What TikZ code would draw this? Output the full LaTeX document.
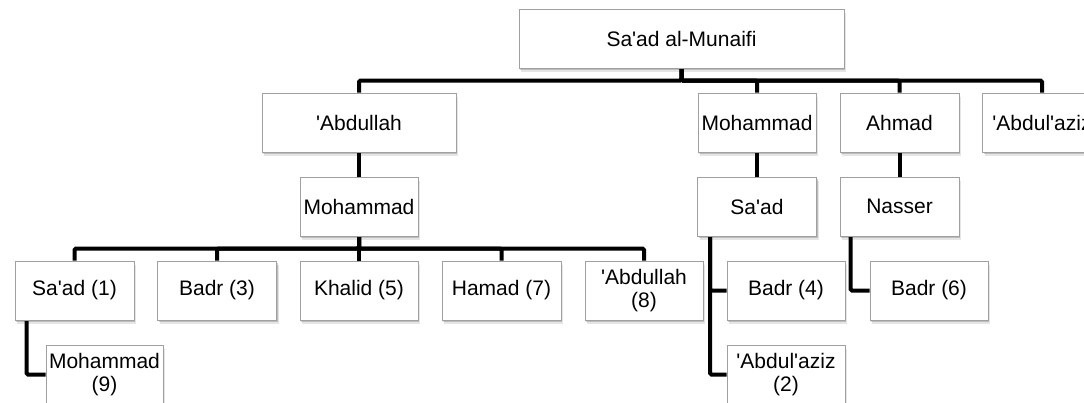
\documentclass[tikz,border=0pt]{standalone}
\usepackage{fontspec}
\setmainfont{Liberation Sans}[Ligatures=TeXOff]
\usetikzlibrary{shadows,backgrounds}
\definecolor{boxline}{HTML}{A0A0A0}
\tikzset{
  person/.style={draw=boxline, line width=1pt, fill=white, minimum height=59pt,
    minimum width=119pt, inner sep=0pt, align=center,
    font=\fontsize{21}{22.5}\selectfont,
    drop shadow={shadow xshift=1pt, shadow yshift=-1.8pt, fill=black, opacity=0.18},
    drop shadow={shadow xshift=2pt, shadow yshift=-3.5pt, fill=black, opacity=0.10}},
  conn/.style={line width=4pt, black, rounded corners=1.5pt}
}
\begin{document}
\begin{tikzpicture}[x=1pt,y=1pt]
\useasboundingbox (0,0) rectangle (1084,-402);
% level 0
\node[person, minimum width=325pt] (root) at (681.5,-38.5) {Sa'ad al-Munaifi};
% level 1
\node[person, minimum width=194pt] (a1) at (359,-122.5) {'Abdullah};
\node[person, minimum width=118pt] (a2) at (757,-122.5) {Mohammad};
\node[person] (a3) at (899.5,-122.5) {Ahmad};
\node[person] (a4) at (1042,-122.5) {'Abdul'aziz};
% level 2
\node[person, minimum width=118pt] (b1) at (359,-206.5) {Mohammad};
\node[person] (b2) at (757,-206.5) {Sa'ad};
\node[person] (b3) at (899.5,-206.5) {Nasser};
% level 3
\node[person] (c1) at (74.5,-290.5) {Sa'ad (1)};
\node[person] (c3) at (217,-290.5) {Badr (3)};
\node[person, minimum width=118pt] (c5) at (359,-290.5) {Khalid (5)};
\node[person] (c7) at (501.5,-290.5) {Hamad (7)};
\node[person, minimum width=118pt] (c8) at (644,-290.5) {'Abdullah\\(8)};
\node[person, minimum width=118pt] (c4) at (786,-290.5) {Badr (4)};
\node[person, minimum width=118pt] (c6) at (929,-290.5) {Badr (6)};
% level 4
\node[person, minimum width=117pt] (c9) at (104.5,-374.5) {Mohammad\\(9)};
\node[person, minimum width=118pt] (c2) at (786,-374.5) {'Abdul'aziz\\(2)};
% helper coordinates
\coordinate (bus1) at (0,-80.5);
\coordinate (bus3) at (0,-248.5);
\coordinate (s1) at ([xshift=12pt]c1.south west);
\coordinate (s2) at ([xshift=13pt]b2.south west);
\coordinate (s3) at ([xshift=11pt]b3.south west);
\begin{scope}[on background layer]
\foreach \c in {a1,a2,a3,a4}
  \draw[conn] (root.south) -- (root.south |- bus1) -| (\c.north);
\draw[conn] (a1.south) -- (b1.north);
\draw[conn] (a2.south) -- (b2.north);
\draw[conn] (a3.south) -- (b3.north);
\foreach \c in {c1,c3,c5,c7,c8}
  \draw[conn] (b1.south) -- (b1.south |- bus3) -| (\c.north);
\draw[conn] (s1) |- (c9.west);
\draw[conn] (s2) |- (c4.west);
\draw[conn] (s2) |- (c2.west);
\draw[conn] (s3) |- (c6.west);
\end{scope}
\end{tikzpicture}
\end{document}
